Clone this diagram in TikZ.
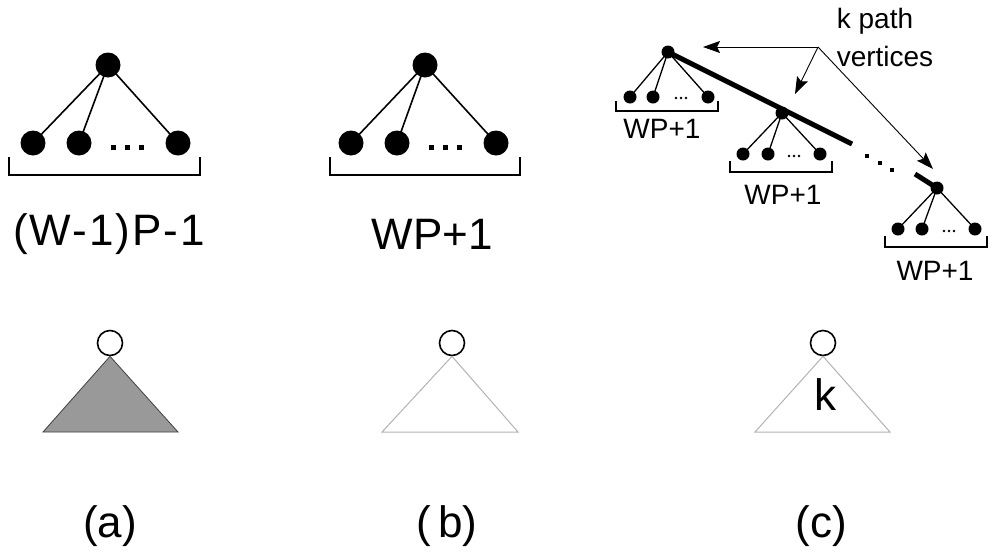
\documentclass[tikz,border=0pt]{standalone}
\usepackage{fontspec}
\setmainfont{Liberation Sans}
\usetikzlibrary{arrows.meta}
\begin{document}
\begin{tikzpicture}[x=1pt,y=-1pt,
  bigdot/.style={circle,fill=black,inner sep=0pt,minimum size=25pt},
  smalldot/.style={circle,fill=black,inner sep=0pt,minimum size=13pt},
  edge/.style={line width=1.6pt},
  sedge/.style={line width=1.3pt},
  brace/.style={line width=1.3pt},
  tip/.style={fill=black,inner sep=0pt,minimum size=5pt},
  stip/.style={circle,fill=black,inner sep=0pt,minimum size=2.6pt},
  biglabel/.style={font=\fontsize{44}{50}\selectfont,inner sep=0pt},
  smalllabel/.style={font=\fontsize{28}{32}\selectfont,inner sep=0pt},
  rootring/.style={circle,draw=black,line width=1.6pt,fill=white,inner sep=0pt,minimum size=25pt},
  pathline/.style={line width=5pt},
  pointer/.style={line width=0.9pt,-{Stealth[length=17pt,width=12pt,inset=3pt]}}
]
\useasboundingbox (0,0) rectangle (992,555);

% ---------- (a) ----------
\node[bigdot] (ar) at (108,65) {};
\node[bigdot] (a1) at (33,143) {};
\node[bigdot] (a2) at (79,143) {};
\node[bigdot] (a3) at (178,143) {};
\draw[edge] (ar.center) -- (a1.center);
\draw[edge] (ar.center) -- (a2.center);
\draw[edge] (ar.center) -- (a3.center);
\foreach \x in {113,127,141} \node[tip] at (\x,147) {};
\draw[brace] (9,157) -- (9,175) -- (200,175) -- (200,157);
\node[biglabel] (alab) at (109,234) {\addfontfeature{LetterSpace=4.5}(W-1)P-1};

% ---------- (b) ----------
\node[bigdot] (br) at (425,65) {};
\node[bigdot] (b1) at (351,143) {};
\node[bigdot] (b2) at (397,143) {};
\node[bigdot] (b3) at (496,143) {};
\draw[edge] (br.center) -- (b1.center);
\draw[edge] (br.center) -- (b2.center);
\draw[edge] (br.center) -- (b3.center);
\foreach \x in {431,445,459} \node[tip] at (\x,147) {};
\draw[brace] (330,157) -- (330,175) -- (520,175) -- (520,157);
\node[biglabel] (blab) at (432,234) {WP+1};

% ---------- (c) : path of k vertices ----------
% top subtree
\node[smalldot] (t0) at (668,52) {};
\node[smalldot] (t1) at (630,97) {};
\node[smalldot] (t2) at (653,97) {};
\node[smalldot] (t3) at (708,97) {};
\foreach \n in {t1,t2,t3} \draw[sedge] (t0.center) -- (\n.center);
\foreach \x in {676,681,686} \node[stip] at (\x,98) {};
\draw[brace] (616,101) -- (616,111) -- (718,111) -- (718,101);
\node[smalllabel] (tlab) at (662,129) {WP+1};

% middle subtree
\node[smalldot] (m0) at (782,113) {};
\node[smalldot] (m1) at (743,154) {};
\node[smalldot] (m2) at (768,154) {};
\node[smalldot] (m3) at (820,154) {};
\foreach \n in {m1,m2,m3} \draw[sedge] (m0.center) -- (\n.center);
\foreach \x in {789,794,799} \node[stip] at (\x,156) {};
\draw[brace] (730,161) -- (730,172) -- (832,172) -- (832,161);
\node[smalllabel] (mlab) at (783,195) {WP+1};

% bottom subtree
\node[smalldot] (l0) at (937,188) {};
\node[smalldot] (l1) at (898,229) {};
\node[smalldot] (l2) at (922,229) {};
\node[smalldot] (l3) at (975,229) {};
\foreach \n in {l1,l2,l3} \draw[sedge] (l0.center) -- (\n.center);
\foreach \x in {944,949,954} \node[stip] at (\x,231) {};
\draw[brace] (885,236) -- (885,247) -- (987,247) -- (987,236);
\node[smalllabel] (llab) at (935,271) {WP+1};

% thick path through the path vertices
\coordinate (pe) at (852,144);
\coordinate (ps) at (915,174);
\draw[pathline] (t0.center) -- (pe);
\draw[pathline] (ps) -- (l0.center);
\foreach \x/\y in {867/156,880/163,892/170} \node[tip,minimum size=4.5pt] at (\x,\y) {};

% pointers from the caption to the path vertices
\node[smalllabel,anchor=base] (kp) at (875,28) {k path};
\node[smalllabel,anchor=base] (kv) at (885,66) {vertices};
\coordinate (src) at (818,47);
\coordinate (e1) at (703,47);
\coordinate (e2) at (795,94);
\coordinate (e3) at (933,169);
\draw[pointer] (src) -- (e1);
\draw[pointer] (src) -- (e2);
\draw[pointer] (src) -- (e3);

% ---------- lower row ----------
\node[rootring] (ta) at (110,343) {};
\filldraw[fill=black!40,draw=black!75,line width=0.8pt] (ta.south) -- (43,432) -- (178,432) -- cycle;

\node[rootring] (tb) at (452,343) {};
\draw[draw=black!30,line width=1pt] (tb.south) -- (382,432) -- (518,432) -- cycle;

\node[rootring] (tc) at (823,343) {};
\draw[draw=black!30,line width=1pt] (tc.south) -- (755,432) -- (890,432) -- cycle;
\node[biglabel] (kk) at (825,395) {k};

\node[biglabel] (la) at (110,526) {(a)};
\node[biglabel] (lb) at (447,526) {(\,b)};
\node[biglabel] (lc) at (821,526) {(c)};
\end{tikzpicture}
\end{document}
